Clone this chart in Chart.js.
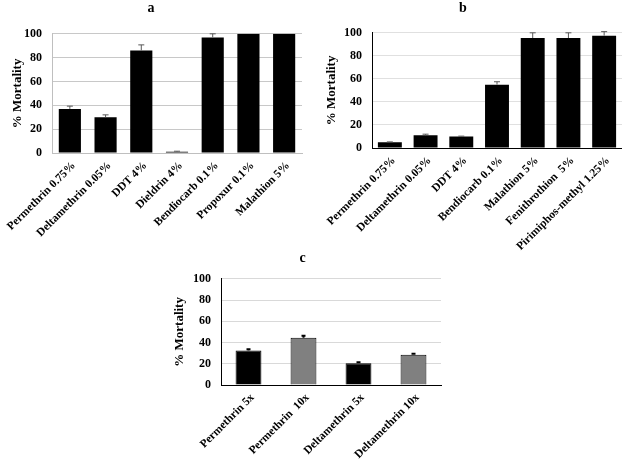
<!DOCTYPE html>
<html>
<head>
<meta charset="utf-8">
<script src="https://cdn.jsdelivr.net/npm/chart.js@4.4.0/dist/chart.umd.min.js"></script>
<style>
  body { margin: 0; background: #fff; }
  #wrap { position: relative; width: 632px; height: 463px; overflow: hidden; }
  .panel { position: absolute; }
</style>
</head>
<body>
<div id="wrap">
  <div class="panel" style="left:164px; top:250px; width:286px; height:213px;"><canvas id="chartC"></canvas></div>
  <div class="panel" style="left:0px; top:0px; width:320px; height:262px;"><canvas id="chartA"></canvas></div>
  <div class="panel" style="left:304px; top:0px; width:318px; height:262px;"><canvas id="chartB"></canvas></div>
</div>
<script>
// Datos de los tres paneles
const labelsA = ['Permethrin 0.75%', 'Deltamethrin 0.05%', 'DDT 4%', 'Dieldrin 4%', 'Bendiocarb 0.1%', 'Propoxur 0.1%', 'Malathion 5%'];
const valuesA = [37, 30, 86, 1, 97, 100, 100];
const errorsA = [2.3, 2, 4.7, 0.5, 3, 0, 0];

const labelsB = ['Permethrin 0.75%', 'Deltamethrin 0.05%', 'DDT 4%', 'Bendiocarb 0.1%', 'Malathion 5%', 'Fenithrothion  5%', 'Pirimiphos-methyl 1.25%'];
const valuesB = [5, 11, 10, 55, 95.5, 95.5, 97.5];
const errorsB = [0.3, 1, 0.3, 2.5, 4.5, 4.5, 3.5];

const labelsC = ['Permethrin 5x', 'Permethrin  10x', 'Deltamethrin 5x', 'Deltamethrin 10x'];
const valuesC = [32.5, 44.5, 20.5, 28.5];
const errorsC = [1.2, 1.8, 0.9, 1];
const colorsC = ['#000000', '#808080', '#000000', '#808080'];

const yTicks = [0, 20, 40, 60, 80, 100];

const serif = 'Liberation Serif, Times New Roman, serif';

// Plugin para barras de error (solo usa las escalas del gráfico)
const errorBarPlugin = {
    id: 'errorBars',
    afterDatasetsDraw(chart, args, opts) {
        const ctx = chart.ctx;
        const yScale = chart.scales.y;
        chart.data.datasets.forEach((ds, di) => {
            const meta = chart.getDatasetMeta(di);
            meta.data.forEach((bar, i) => {
                const err = ds.errors[i];
                if (!err) return;
                const v = ds.data[i];
                const yTop = yScale.getPixelForValue(v + err);
                const yMid = yScale.getPixelForValue(v);
                ctx.save();
                ctx.strokeStyle = opts.color;
                ctx.lineWidth = opts.lineWidth;
                ctx.beginPath();
                ctx.moveTo(bar.x, yMid);
                ctx.lineTo(bar.x, yTop);
                ctx.moveTo(bar.x - opts.cap, yTop);
                ctx.lineTo(bar.x + opts.cap, yTop);
                ctx.stroke();
                ctx.restore();
            });
        });
    }
};

function makeChart(id, cfg) {
    const ctx = document.getElementById(id).getContext('2d');
    return new Chart(ctx, {
        type: 'bar',
        data: {
            labels: cfg.labels,
            datasets: [{
                data: cfg.values,
                errors: cfg.errors,
                backgroundColor: cfg.colors,
                borderColor: '#000000',
                borderWidth: cfg.borderWidth,
                barPercentage: cfg.barPct,
                categoryPercentage: 1
            }]
        },
        options: {
            responsive: true,
            maintainAspectRatio: false,
            animation: false,
            layout: { padding: { left: 0, right: cfg.padRight, top: 0, bottom: 0 } },
            plugins: {
                legend: { display: false },
                tooltip: { enabled: false },
                title: {
                    display: true,
                    text: cfg.title,
                    color: '#000',
                    font: { family: serif, size: 14, weight: 'bold' },
                    padding: { top: 0, bottom: cfg.titleGap }
                },
                errorBars: cfg.err
            },
            scales: {
                x: {
                    grid: { display: false, drawTicks: false },
                    border: { display: true, color: cfg.axisColor, width: 1 },
                    ticks: {
                        color: '#000',
                        font: { family: serif, size: 11.5, weight: 'bold' },
                        maxRotation: 45,
                        minRotation: 45,
                        autoSkip: false,
                        padding: 6,
                        labelOffset: 4
                    },
                    afterFit: function (scale) {
                        scale.height = cfg.xHeight;
                        scale.paddingLeft = 0;
                        scale.paddingRight = 0;
                    }
                },
                y: {
                    min: 0,
                    max: 100,
                    afterBuildTicks: function (scale) { scale.ticks = yTicks.map(v => ({ value: v })); },
                    grid: { color: cfg.gridColor, drawTicks: false },
                    border: { display: true, color: cfg.axisColor, width: 1 },
                    ticks: {
                        color: '#000',
                        font: { family: serif, size: 12, weight: 'bold' },
                        padding: 10
                    },
                    title: {
                        display: true,
                        text: '% Mortality',
                        color: '#000',
                        font: { family: serif, size: 13, weight: 'bold' },
                        padding: { top: cfg.yTitlePad, bottom: 0 }
                    },
                    afterFit: function (scale) { scale.width = cfg.yWidth; }
                }
            }
        },
        plugins: [errorBarPlugin]
    });
}

makeChart('chartA', {
    title: 'a', labels: labelsA, values: valuesA, errors: errorsA,
    colors: '#000000', borderWidth: 0, barPct: 0.62,
    padRight: 18, titleGap: 17, xHeight: 109, yWidth: 52, yTitlePad: 10,
    axisColor: '#bfbfbf', gridColor: '#c8c8c8',
    err: { color: '#595959', lineWidth: 1, cap: 3 }
});

makeChart('chartB', {
    title: 'b', labels: labelsB, values: valuesB, errors: errorsB,
    colors: '#000000', borderWidth: 0, barPct: 0.67,
    padRight: 0, titleGap: 16, xHeight: 114, yWidth: 68, yTitlePad: 20,
    axisColor: '#000000', gridColor: '#e0e0e0',
    err: { color: '#595959', lineWidth: 1, cap: 3 }
});

makeChart('chartC', {
    title: 'c', labels: labelsC, values: valuesC, errors: errorsC,
    colors: colorsC, borderWidth: 1, barPct: 0.47,
    padRight: 9, titleGap: 12, xHeight: 78, yWidth: 57, yTitlePad: 8,
    axisColor: '#000000', gridColor: '#d9d9d9',
    err: { color: '#000000', lineWidth: 2, cap: 2 }
});
</script>
</body>
</html>
